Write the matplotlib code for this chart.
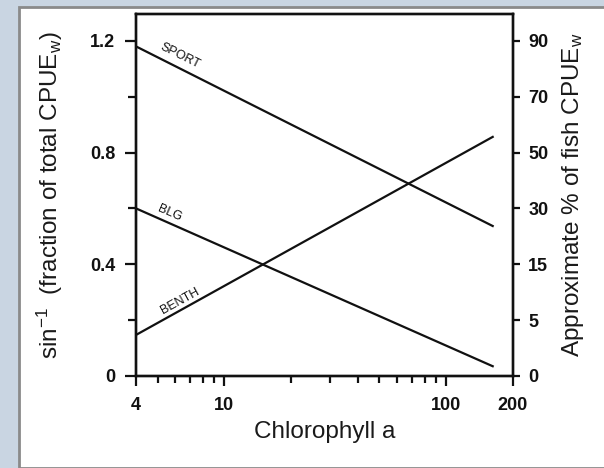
import numpy as np
import matplotlib
matplotlib.use("Agg")
import matplotlib.pyplot as plt
from matplotlib.patches import Rectangle

plt.rcParams['font.family'] = ['Liberation Sans', 'DejaVu Sans']
plt.rcParams['mathtext.fontset'] = 'custom'
plt.rcParams['mathtext.rm'] = 'Liberation Sans'
plt.rcParams['mathtext.it'] = 'Liberation Sans:italic'

# chlorophyll a range covered by the fitted lines
chl = [4, 162]
# arcsine-transformed fraction of total CPUE_w
sport = [1.18, 0.537]
blg = [0.60, 0.035]
benth = [0.147, 0.856]

left_ticks = [0, 0.4, 0.8, 1.2]
left_minor = [0.2, 0.6, 1.0]
right_ticks = [0, 0.2, 0.4, 0.6, 0.8, 1.0, 1.2]
right_labels = ['0', '5', '15', '30', '50', '70', '90']
x_major = [4, 10, 100, 200]
x_minor = [5, 6, 7, 8, 9, 20, 30, 40, 50, 60, 70, 80, 90]

fig = plt.figure(figsize=(6.04, 4.68), dpi=100)
fig.patch.set_facecolor('#c9d5e2')
fig.patches.append(Rectangle((19/604, 0), 1, 1 - 7/468, transform=fig.transFigure,
                             facecolor='white', edgecolor='#8a8a8a', linewidth=2, zorder=-10))

ax = fig.add_axes([136/604, 1 - 376/468, 377/604, 362/468])
ax.set_xscale('log')
ax.set_xlim(4, 200)
ax.set_ylim(0, 1.296)
ax.patch.set_alpha(0)

k = '#111111'
ax.plot(chl, sport, color=k, lw=1.6)
ax.plot(chl, blg, color=k, lw=1.6)
ax.plot(chl, benth, color=k, lw=1.6)

ax.text(6.29, 1.145, 'SPORT', rotation=-26.5, ha='center', va='center', fontsize=9, color=k)
ax.text(5.68, 0.583, 'BLG', rotation=-23.6, ha='center', va='center', fontsize=9, color=k)
ax.text(6.29, 0.268, 'BENTH', rotation=28.8, ha='center', va='center', fontsize=9, color=k)

ax.set_xticks(x_major)
ax.set_xticklabels([str(v) for v in x_major], fontweight='bold')
ax.set_xticks(x_minor, minor=True)
ax.set_xticklabels([], minor=True)
ax.set_yticks(left_ticks)
ax.set_yticklabels(['0', '0.4', '0.8', '1.2'], fontweight='bold')
ax.set_yticks(left_minor, minor=True)

for s in ax.spines.values():
    s.set_linewidth(1.7)
    s.set_color(k)
ax.tick_params(which='major', direction='out', length=8, width=1.6, labelsize=13, pad=7, colors=k)
ax.tick_params(which='minor', direction='out', length=6, width=1.6, colors=k)
ax.tick_params(axis='x', which='major', length=7, pad=8)
ax.tick_params(axis='x', which='minor', length=5)

ax2 = ax.twinx()
ax2.set_ylim(0, 1.296)
ax2.set_yticks(right_ticks)
ax2.set_yticklabels(right_labels, fontweight='bold')
ax2.tick_params(direction='out', length=5, width=1.6, labelsize=13, pad=6, colors=k)
for s in ax2.spines.values():
    s.set_linewidth(1.7)
    s.set_color(k)

ax.set_xlabel('Chlorophyll a', fontsize=17.5, color='#1a1a1a')
ax.xaxis.set_label_coords(0.5, -0.125)
ax.set_ylabel(r'sin$^{\mathrm{-1}}$  (fraction of total CPUE$_\mathrm{w}$)', fontsize=17.5, color='#1a1a1a')
ax.yaxis.set_label_coords(-0.188, 0.5)
ax2.set_ylabel(r'Approximate % of fish CPUE$_\mathrm{w}$', fontsize=17.5, color='#1a1a1a')
ax2.yaxis.set_label_coords(1.125, 0.5)

fig.savefig('out.png', dpi=100, facecolor=fig.get_facecolor())
